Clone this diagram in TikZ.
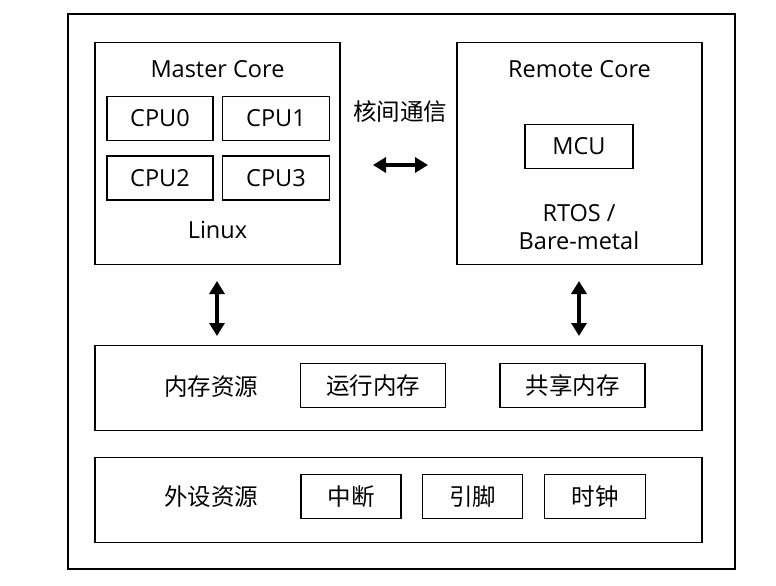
\documentclass[tikz,border=0pt]{standalone}
\usepackage{fontspec}
\setmainfont{Open Sans}
\newfontfamily\cjk{Noto Sans CJK SC}
\usetikzlibrary{arrows.meta}

\begin{document}
\begin{tikzpicture}[x=1pt,y=-1pt,>={Triangle[length=13pt,width=15pt]},
    font=\fontsize{23.5}{27.5}\selectfont,
    frame/.style={draw,line width=2pt,inner sep=0pt,minimum width=667pt,minimum height=555pt},
    core/.style={draw,line width=1.8pt,inner sep=0pt,minimum width=245pt,minimum height=222pt},
    band/.style={draw,line width=1.8pt,inner sep=0pt,minimum width=607pt,minimum height=85pt},
    unit/.style={draw,line width=1.8pt,inner sep=0pt,minimum width=#1,minimum height=44pt},
    cn/.style={font=\cjk\fontsize{23.5}{27.5}\selectfont},
    link/.style={<->,line width=3.5pt}]
    \useasboundingbox (0,0) rectangle (776,586);

    \node[frame] (board) at (401.5,291.5) {};

    % cores
    \node[core] (master) at (217.5,153.5) {};
    \node[core] (remote) at (579.5,153.5) {};
    \node (mastername) at (217.5,69) {Master Core};
    \node (remotename) at (579.5,69) {Remote Core};
    \node[unit=106pt] (cpu0) at (160,118.5) {CPU0};
    \node[unit=107pt] (cpu1) at (276,118.5) {CPU1};
    \node[unit=106pt] (cpu2) at (160,178) {CPU2};
    \node[unit=107pt] (cpu3) at (276,178) {CPU3};
    \node (linux) at (217.5,230) {Linux};
    \node[unit=108pt] (mcu) at (579,146.5) {MCU};
    \node[align=center,inner sep=0pt] (rtos) at (579,227) {RTOS /\\Bare-metal};

    \node[cn] (ipc) at (400,112) {核间通信};

    % resources
    \node[band] (mem) at (398.5,388) {};
    \node[cn] (memname) at (211,387) {内存资源};
    \node[unit=145pt,cn] (runmem) at (373,385.5) {运行内存};
    \node[unit=145pt,cn] (shmem) at (572.5,385.5) {共享内存};

    \node[band] (peri) at (398.5,500) {};
    \node[cn] (periname) at (211,497) {外设资源};
    \node[unit=100pt,cn] (irq) at (351,496.5) {中断};
    \node[unit=100pt,cn] (pin) at (472.5,496.5) {引脚};
    \node[unit=101pt,cn] (clk) at (595,496.5) {时钟};

    \coordinate (ipcl) at (373,165);
    \coordinate (ipcr) at (428,165);
    \coordinate (mtop) at (217,281);
    \coordinate (mbot) at (217,336);
    \coordinate (rtop) at (579,281);
    \coordinate (rbot) at (579,336);

    \draw[link] (ipcl) -- (ipcr);
    \draw[link] (mtop) -- (mbot);
    \draw[link] (rtop) -- (rbot);
\end{tikzpicture}
\end{document}
